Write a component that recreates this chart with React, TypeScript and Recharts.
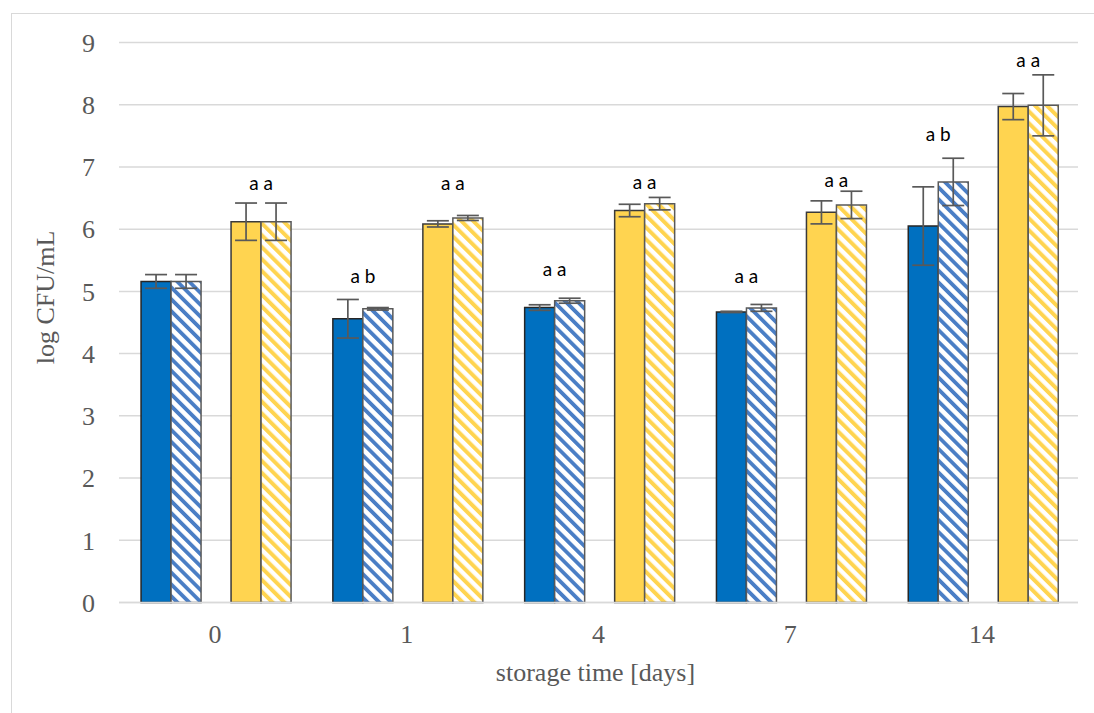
import React from 'react';
import { BarChart, Bar, XAxis, YAxis, CartesianGrid, ErrorBar, LabelList, Label } from 'recharts';

// Storage days on the category axis
const days = ['0', '1', '4', '7', '14'];

// Mean counts (log CFU/mL) and their standard deviations
const blueSolid = [5.16, 4.56, 4.74, 4.67, 6.05];
const blueSolidErr = [0.11, 0.31, 0.045, 0.01, 0.63];
const blueHatched = [5.16, 4.72, 4.85, 4.735, 6.76];
const blueHatchedErr = [0.11, 0.02, 0.04, 0.055, 0.38];
const yellowSolid = [6.12, 6.085, 6.3, 6.27, 7.97];
const yellowSolidErr = [0.3, 0.05, 0.1, 0.185, 0.21];
const yellowHatched = [6.12, 6.18, 6.41, 6.39, 7.99];
const yellowHatchedErr = [0.3, 0.04, 0.1, 0.22, 0.49];

// Significance letters over each pair and the height (in axis units) where they sit
const blueLetters = ['', 'a b', 'a a', 'a a', 'a b'];
const blueLetterAt: (number | null)[] = [null, 5.26, 5.37, 5.26, 7.53];
const yellowLetters = ['a a', 'a a', 'a a', 'a a', 'a a'];
const yellowLetterAt = [6.745, 6.745, 6.76, 6.8, 8.72];

const yTicks = [0, 1, 2, 3, 4, 5, 6, 7, 8, 9];

const data = days.map((day, i) => ({
  day,
  blueSolid: blueSolid[i],
  blueSolidErr: blueSolidErr[i],
  blueHatched: blueHatched[i],
  blueHatchedErr: blueHatchedErr[i],
  yellowSolid: yellowSolid[i],
  yellowSolidErr: yellowSolidErr[i],
  yellowHatched: yellowHatched[i],
  yellowHatchedErr: yellowHatchedErr[i],
  blueLetters: blueLetters[i],
  yellowLetters: yellowLetters[i],
}));

const axisFont = '"Liberation Serif", "Times New Roman", serif';
const axisColor = '#595959';
const errColor = '#595959';

// Letters are centred over the boundary between the two bars of a pair.
// The bar's own geometry gives the pixels-per-unit of the value axis.
function letterLabel(values: number[], heights: (number | null)[]) {
  return (props: any) => {
    const { index, value } = props;
    const vb = props.viewBox ?? props;
    if (index == null || !value) return null;
    const h = heights[index];
    if (h == null) return null;
    const base = vb.y + vb.height;
    const pxPerUnit = vb.height / values[index];
    const cy = base - h * pxPerUnit;
    return (
      <text
        x={vb.x + vb.width}
        y={cy}
        textAnchor="middle"
        dominantBaseline="central"
        fontFamily='Lato, "Open Sans", sans-serif'
        fontSize={19}
        fill="#000"
      >
        {value}
      </text>
    );
  };
}

const YTitle = (props: any) => {
  const vb = props.viewBox;
  const x = vb.x + 45;
  const y = vb.y + vb.height / 2 - 25;
  return (
    <text
      x={x}
      y={y}
      transform={`rotate(-90, ${x}, ${y})`}
      textAnchor="middle"
      dominantBaseline="central"
      fontFamily={axisFont}
      fontSize={26}
      fill={axisColor}
    >
      log CFU/mL
    </text>
  );
};

const XTitle = (props: any) => {
  const vb = props.viewBox;
  return (
    <text
      x={vb.x + vb.width / 2 - 3}
      y={vb.y + 78}
      textAnchor="middle"
      fontFamily={axisFont}
      fontSize={26}
      fill={axisColor}
    >
      storage time [days]
    </text>
  );
};

export default function App() {
  return (
    <div style={{ position: 'absolute', left: 0, top: 0, width: 1094, height: 713, background: '#fff', overflow: 'hidden' }}>
      <div
        style={{
          position: 'absolute',
          left: 11,
          top: 13,
          width: 1083,
          height: 700,
          borderLeft: '1.5px solid #D9D9D9',
          borderTop: '1.5px solid #D9D9D9',
        }}
      />
      <div style={{ position: 'absolute', left: 0, top: 0 }}>
        <BarChart
          width={1094}
          height={713}
          data={data}
          margin={{ top: 42.5, right: 16, bottom: 30.5, left: 0 }}
          barCategoryGap="11.5%"
          barGap={0}
        >
          <defs>
            <pattern id="hatchBlue" width="8.4" height="8.4" patternUnits="userSpaceOnUse" patternTransform="rotate(-45)">
              <rect width="8.4" height="8.4" fill="#ffffff" />
              <rect width="3.8" height="8.4" fill="#4A7EC5" />
            </pattern>
            <pattern id="hatchYellow" width="8.4" height="8.4" patternUnits="userSpaceOnUse" patternTransform="rotate(-45)">
              <rect width="8.4" height="8.4" fill="#ffffff" />
              <rect width="4" height="8.4" fill="#FFD450" />
            </pattern>
          </defs>
          <CartesianGrid vertical={false} stroke="#D9D9D9" strokeWidth={1.5} />
          <XAxis
            dataKey="day"
            height={80}
            axisLine={{ stroke: '#D9D9D9', strokeWidth: 1.5 }}
            tickLine={false}
            tickSize={0}
            tickMargin={22}
            tick={{ fontFamily: axisFont, fontSize: 26, fill: axisColor }}
          >
            <Label content={XTitle} />
          </XAxis>
          <YAxis
            domain={[0, 9]}
            ticks={yTicks}
            width={119}
            axisLine={false}
            tickLine={false}
            tickSize={0}
            tickMargin={24}
            interval={0}
            tick={{ fontFamily: axisFont, fontSize: 26, fill: axisColor }}
          >
            <Label content={YTitle} />
          </YAxis>
          <Bar dataKey="blueSolid" fill="#0070C0" stroke="#262626" strokeWidth={1.5} isAnimationActive={false}>
            <ErrorBar dataKey="blueSolidErr" width={11} stroke={errColor} strokeWidth={1.7} />
            <LabelList dataKey="blueLetters" content={letterLabel(blueSolid, blueLetterAt)} />
          </Bar>
          <Bar dataKey="blueHatched" fill="url(#hatchBlue)" stroke="#595959" strokeWidth={1.5} isAnimationActive={false}>
            <ErrorBar dataKey="blueHatchedErr" width={11} stroke={errColor} strokeWidth={1.7} />
          </Bar>
          <Bar dataKey="gap" fill="none" isAnimationActive={false} />
          <Bar dataKey="yellowSolid" fill="#FFD450" stroke="#3A3A3A" strokeWidth={1.5} isAnimationActive={false}>
            <ErrorBar dataKey="yellowSolidErr" width={11} stroke={errColor} strokeWidth={1.7} />
            <LabelList dataKey="yellowLetters" content={letterLabel(yellowSolid, yellowLetterAt)} />
          </Bar>
          <Bar dataKey="yellowHatched" fill="url(#hatchYellow)" stroke="#595959" strokeWidth={1.5} isAnimationActive={false}>
            <ErrorBar dataKey="yellowHatchedErr" width={11} stroke={errColor} strokeWidth={1.7} />
          </Bar>
        </BarChart>
      </div>
    </div>
  );
}
